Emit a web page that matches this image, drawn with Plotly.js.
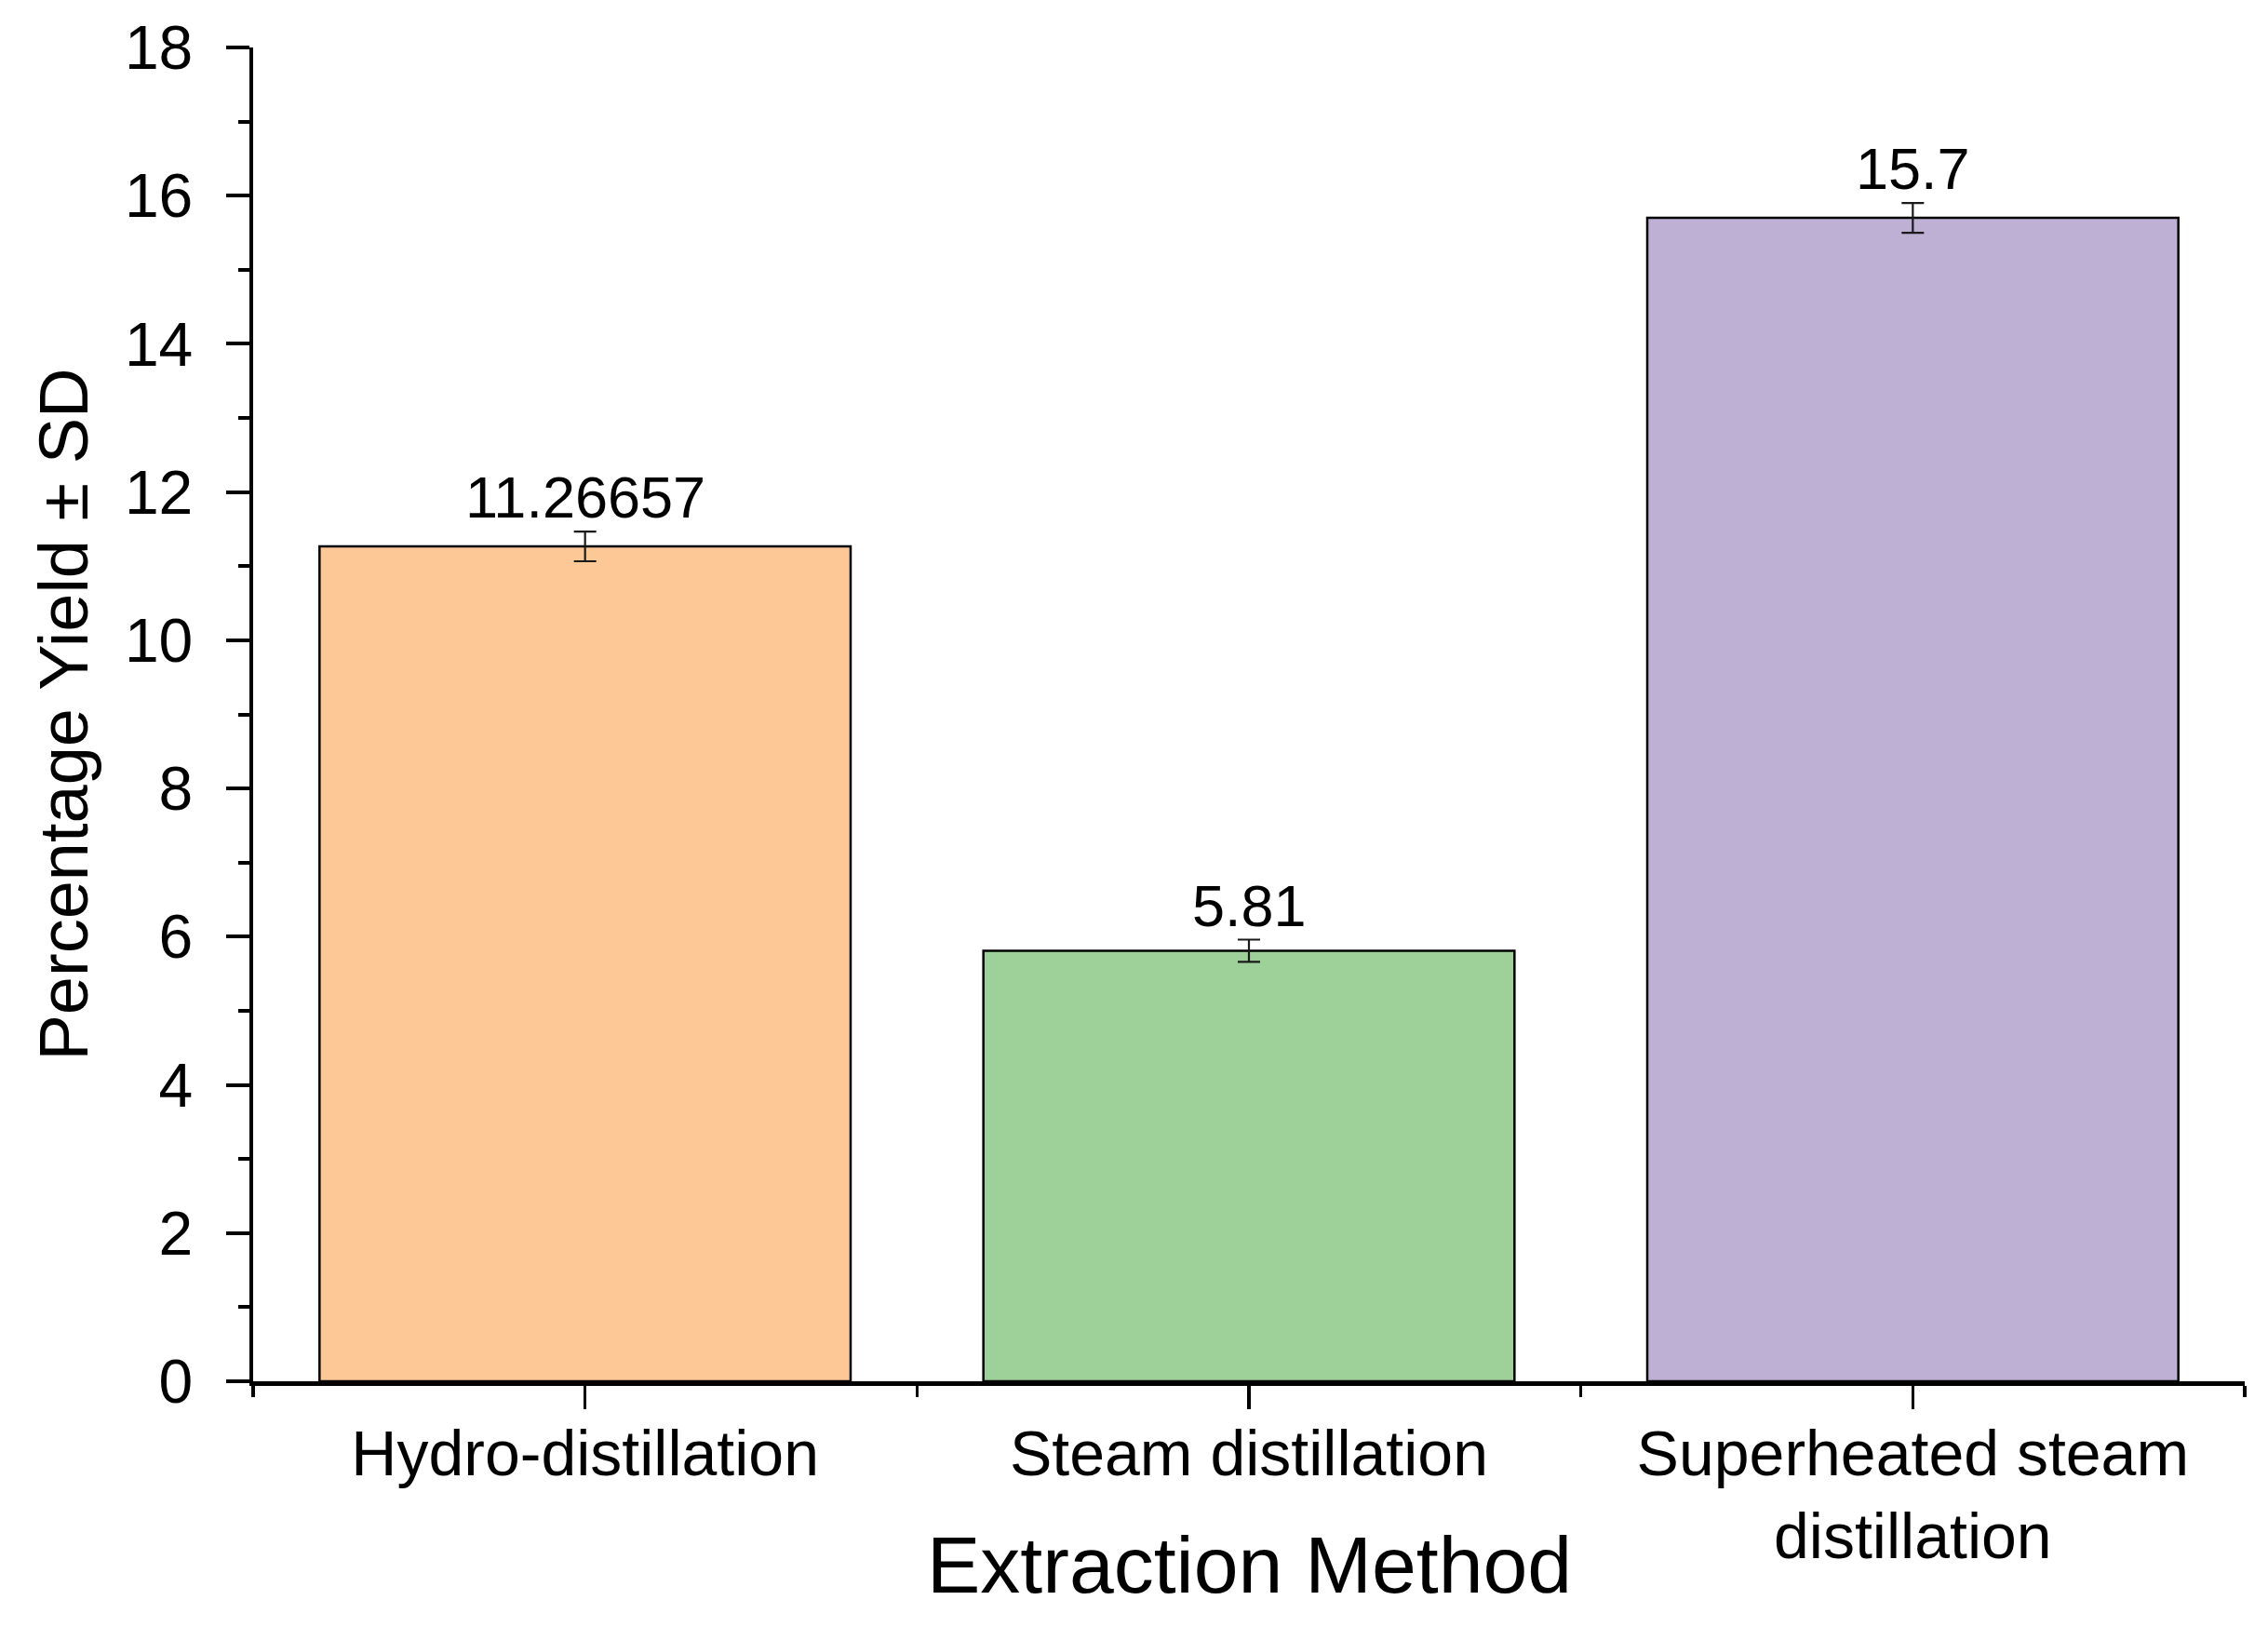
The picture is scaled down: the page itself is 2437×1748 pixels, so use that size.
<!DOCTYPE html>
<html>
<head>
<meta charset="utf-8">
<script src="https://cdn.plot.ly/plotly-3.0.1.min.js"></script>
<style>
  html, body { margin: 0; padding: 0; background: #ffffff; }
  #chart { width: 2437px; height: 1748px; }
</style>
</head>
<body>
<div id="chart"></div>
<script>
// ---- data ----
const categories = ["Hydro-distillation", "Steam distillation", "Superheated steam<br>distillation"];
const yieldValues = [11.26657, 5.81, 15.7];
const yieldSD = [0.2, 0.15, 0.2];
const barColors = ["#FDC896", "#9DD199", "#BEAFD4"];
const yTickValues = [0, 2, 4, 6, 8, 10, 12, 14, 16, 18];
const xTitle = "Extraction Method";
const yTitle = "Percentage Yield ± SD";

const positions = categories.map((c, i) => i);
const FONT = "Liberation Sans, Arial, sans-serif";

const trace = {
  type: "bar",
  x: positions,
  y: yieldValues,
  width: 0.8,
  marker: { color: barColors, line: { color: "#000000", width: 2.5 } },
  error_y: { type: "data", array: yieldSD, visible: true, color: "#1a1a1a", thickness: 2.2, width: 12 },
  hoverinfo: "none"
};

const valueLabels = yieldValues.map((v, i) => ({
  x: positions[i],
  y: v + yieldSD[i],
  xref: "x", yref: "y",
  text: String(v),
  showarrow: false,
  yanchor: "bottom",
  yshift: 0,
  font: { family: FONT, size: 63, color: "#000000" }
}));

const layout = {
  width: 2437,
  height: 1748,
  paper_bgcolor: "#ffffff",
  plot_bgcolor: "#ffffff",
  showlegend: false,
  margin: { l: 272, r: 25, t: 51, b: 264, autoexpand: false },
  font: { family: FONT, color: "#000000" },
  xaxis: {
    range: [-0.5, 2.5],
    tickmode: "array",
    tickvals: positions,
    ticktext: categories,
    ticks: "outside",
    ticklen: 25,
    tickwidth: 3.5,
    tickcolor: "#000000",
    ticklabelstandoff: -10,
    showline: true,
    linecolor: "#000000",
    linewidth: 4.5,
    showgrid: false,
    zeroline: false,
    tickfont: { family: FONT, size: 68, color: "#000000" },
    minor: { tick0: -0.5, dtick: 1, ticks: "outside", ticklen: 12, tickwidth: 3.5, tickcolor: "#000000", showgrid: false },
    automargin: false,
    fixedrange: true
  },
  yaxis: {
    range: [0, 18],
    tickmode: "array",
    tickvals: yTickValues,
    ticks: "outside",
    ticklen: 25,
    tickwidth: 4,
    tickcolor: "#000000",
    ticklabelstandoff: 22,
    showline: true,
    linecolor: "#000000",
    linewidth: 4.5,
    showgrid: false,
    zeroline: false,
    tickfont: { family: FONT, size: 66, color: "#000000" },
    minor: { tick0: 1, dtick: 2, ticks: "outside", ticklen: 12, tickwidth: 4, tickcolor: "#000000", showgrid: false },
    title: { text: yTitle, font: { family: FONT, size: 74, color: "#000000" }, standoff: 16 },
    automargin: false,
    fixedrange: true
  },
  annotations: valueLabels.concat([{
    x: 0.5, y: -0.1375, xref: "paper", yref: "paper",
    xanchor: "center", yanchor: "middle",
    text: xTitle, showarrow: false,
    font: { family: FONT, size: 86, color: "#000000" }
  }])
};

Plotly.newPlot("chart", [trace], layout, { staticPlot: true, displayModeBar: false });
</script>
</body>
</html>
